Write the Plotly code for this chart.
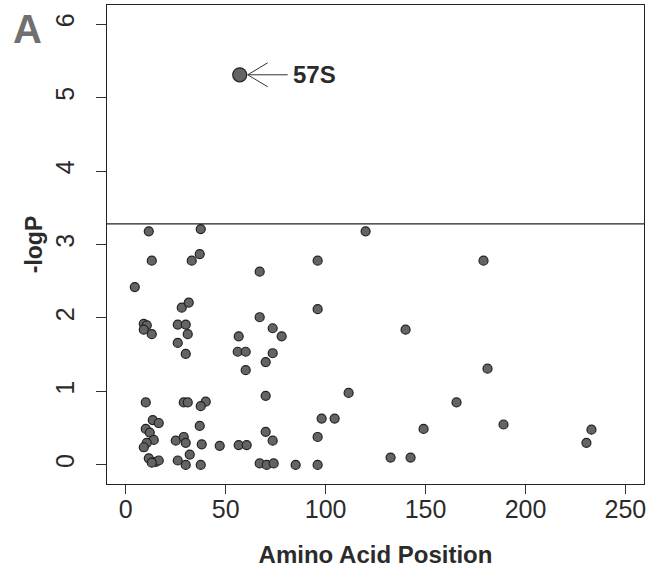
import plotly.graph_objects as go

# Amino acid positions and -logP values
positions = [11.5, 37.5, 13, 33, 37, 67, 4.5, 28, 31.5, 67,
             9, 10.5, 9, 13, 26, 30, 31, 73.5, 78, 56.5,
             26, 30, 56, 60, 73.5, 70, 60, 70, 10, 29,
             31, 40, 37.5, 13.5, 16.5, 10, 12, 14, 10.5, 9,
             37, 25, 29, 30, 38, 47, 56.5, 60.5, 70, 73.5,
             32, 11.5, 15, 16.5, 13, 26, 30, 37.5, 67, 70.5,
             74, 85, 120, 96, 96, 140, 111.5, 98, 104.5, 165.5,
             96, 149, 96, 132.5, 142.5, 179, 181, 189, 233, 230.5]
neglogp = [3.18, 3.21, 2.78, 2.78, 2.87, 2.63, 2.42, 2.14, 2.21, 2.01,
           1.92, 1.90, 1.84, 1.78, 1.91, 1.91, 1.78, 1.86, 1.75, 1.75,
           1.66, 1.51, 1.54, 1.54, 1.52, 1.40, 1.29, 0.94, 0.85, 0.85,
           0.85, 0.86, 0.80, 0.61, 0.57, 0.49, 0.44, 0.34, 0.30, 0.24,
           0.53, 0.33, 0.38, 0.30, 0.28, 0.26, 0.27, 0.27, 0.45, 0.33,
           0.14, 0.09, 0.04, 0.06, 0.03, 0.06, 0.00, 0.00, 0.02, 0.00,
           0.02, 0.00, 3.18, 2.78, 2.12, 1.84, 0.98, 0.63, 0.63, 0.85,
           0.38, 0.49, 0.00, 0.10, 0.10, 2.78, 1.31, 0.55, 0.48, 0.30]

top_pos = [57]
top_logp = [5.31]
top_label = "57S"
threshold = 3.28

x_ticks = [0, 50, 100, 150, 200, 250]
y_ticks = [0, 1, 2, 3, 4, 5, 6]

FONT = "Liberation Sans, Arial, sans-serif"
TXT = "#2b2b2b"

fig = go.Figure()
fig.add_trace(go.Scatter(
    x=positions, y=neglogp, mode="markers",
    marker=dict(size=9, color="#646464", line=dict(color="#222222", width=1.2)),
    showlegend=False, hoverinfo="x+y"))
fig.add_trace(go.Scatter(
    x=top_pos, y=top_logp, mode="markers",
    marker=dict(size=14, color="#646464", line=dict(color="#222222", width=1.2)),
    showlegend=False))

# threshold line
fig.add_shape(type="line", xref="paper", x0=0, x1=1, yref="y", y0=threshold, y1=threshold,
              line=dict(color="#222222", width=1.3))

# open arrow pointing at the top hit
arrow_segments = [((8, 0), (48, 0)), ((8, 0), (28, 12)), ((8, 0), (28, -12))]
for (a, b) in arrow_segments:
    fig.add_shape(type="line", xref="x", yref="y",
                  xsizemode="pixel", ysizemode="pixel",
                  xanchor=top_pos[0], yanchor=top_logp[0],
                  x0=a[0], x1=b[0], y0=a[1], y1=b[1],
                  line=dict(color="#333333", width=1))
fig.add_annotation(x=top_pos[0], y=top_logp[0], text="<b>" + top_label + "</b>",
                   showarrow=False, xanchor="left", yanchor="middle", xshift=51,
                   font=dict(family=FONT, size=24, color=TXT))

# panel letter
fig.add_annotation(xref="paper", yref="paper", x=-0.148, y=0.95, text="<b>A</b>",
                   showarrow=False, xanchor="center", yanchor="middle",
                   font=dict(family=FONT, size=40, color="#707070"))

fig.update_layout(
    width=651, height=572,
    margin=dict(l=107, r=7, t=5, b=88),
    paper_bgcolor="white", plot_bgcolor="white",
    font=dict(family=FONT, color=TXT),
    xaxis=dict(range=[-9.4, 259.3], tickvals=x_ticks, ticks="outside", ticklen=9,
               tickwidth=1, tickcolor="#333", showline=True, mirror=True,
               linecolor="#222", linewidth=1.3, showgrid=False, zeroline=False,
               automargin=False, ticklabelstandoff=-6,
               tickfont=dict(size=25, color=TXT),
               title=dict(text="<b>Amino Acid Position</b>", font=dict(size=24, color=TXT), standoff=24)),
    yaxis=dict(range=[-0.26, 6.26], tickvals=y_ticks, ticks="outside", ticklen=10,
               tickwidth=1, tickcolor="#333", showline=True, mirror=True,
               linecolor="#222", linewidth=1.3, showgrid=False, zeroline=False,
               automargin=False, ticklabelstandoff=12,
               tickangle=-90, tickfont=dict(size=25, color=TXT),
               title=dict(text="<b>-logP</b>", font=dict(size=23, color=TXT), standoff=1)),
)

fig.write_html("out.html", config={"displayModeBar": False},
               post_script="document.body.style.margin='0';document.body.style.overflow='hidden';")
